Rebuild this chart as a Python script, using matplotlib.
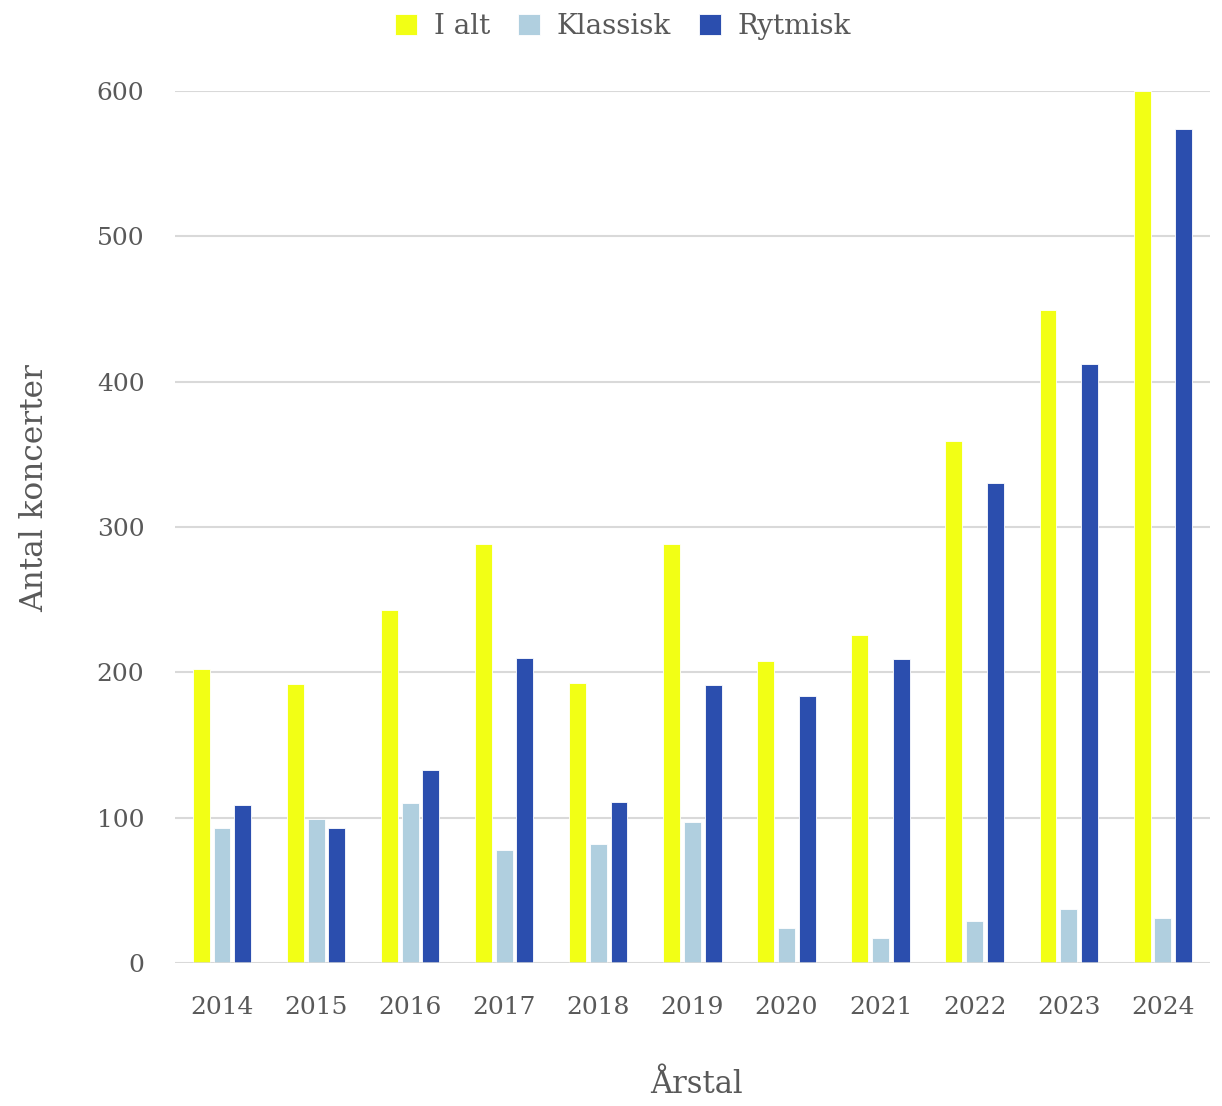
import numpy as np
import matplotlib
matplotlib.use('Agg')
import matplotlib.pyplot as plt

# Data
years = ['2014', '2015', '2016', '2017', '2018', '2019', '2020', '2021', '2022', '2023', '2024']
i_alt = [202, 192, 243, 288, 193, 288, 208, 226, 359, 449, 600]
klassisk = [93, 99, 110, 78, 82, 97, 24, 17, 29, 37, 31]
rytmisk = [109, 93, 133, 210, 111, 191, 184, 209, 330, 412, 574]

series_names = ['I alt', 'Klassisk', 'Rytmisk']
colors = ['#f2ff15', '#b0cfdf', '#2b4eae']
text_color = '#595959'

plt.rcParams['font.family'] = ['DejaVu Serif']

fig = plt.figure(figsize=(12.22, 11.06), dpi=100)
ax = fig.add_axes([0.1432, 0.1293, 0.8468, 0.7884])

x = np.arange(len(years))
width = 0.18
offsets = [-0.22, 0.0, 0.22]
for vals, off, col, name in zip([i_alt, klassisk, rytmisk], offsets, colors, series_names):
    ax.bar(x + off, vals, width, color=col, label=name, zorder=3, edgecolor='white', linewidth=0.6)

ax.set_xlim(-0.5, len(years) - 0.5)
ax.set_ylim(0, 600)
ax.set_yticks(range(0, 601, 100))
ax.set_xticks(x)
ax.set_xticklabels(years)
ax.grid(axis='y', color='#d9d9d9', linewidth=1.5, zorder=0)
ax.axhline(0, color='#d9d9d9', linewidth=1.8, zorder=4)
for s in ax.spines.values():
    s.set_visible(False)
ax.tick_params(length=0, labelsize=18, colors=text_color)
ax.tick_params(axis='x', pad=24)
ax.tick_params(axis='y', pad=22)

ax.set_xlabel('Årstal', fontsize=22, color=text_color, labelpad=36)
ax.set_ylabel('Antal koncerter', fontsize=22.5, color=text_color)
ax.yaxis.set_label_coords(-0.121, 0.545)
ax.xaxis.label.set_x(0.504)

fig.legend(loc='upper center', bbox_to_anchor=(0.51, 1.011), ncol=3, frameon=False,
           fontsize=20, labelcolor=text_color, handlelength=0.8, handleheight=0.8,
           handletextpad=0.6, columnspacing=1.0)

fig.savefig('out.png', dpi=100)
